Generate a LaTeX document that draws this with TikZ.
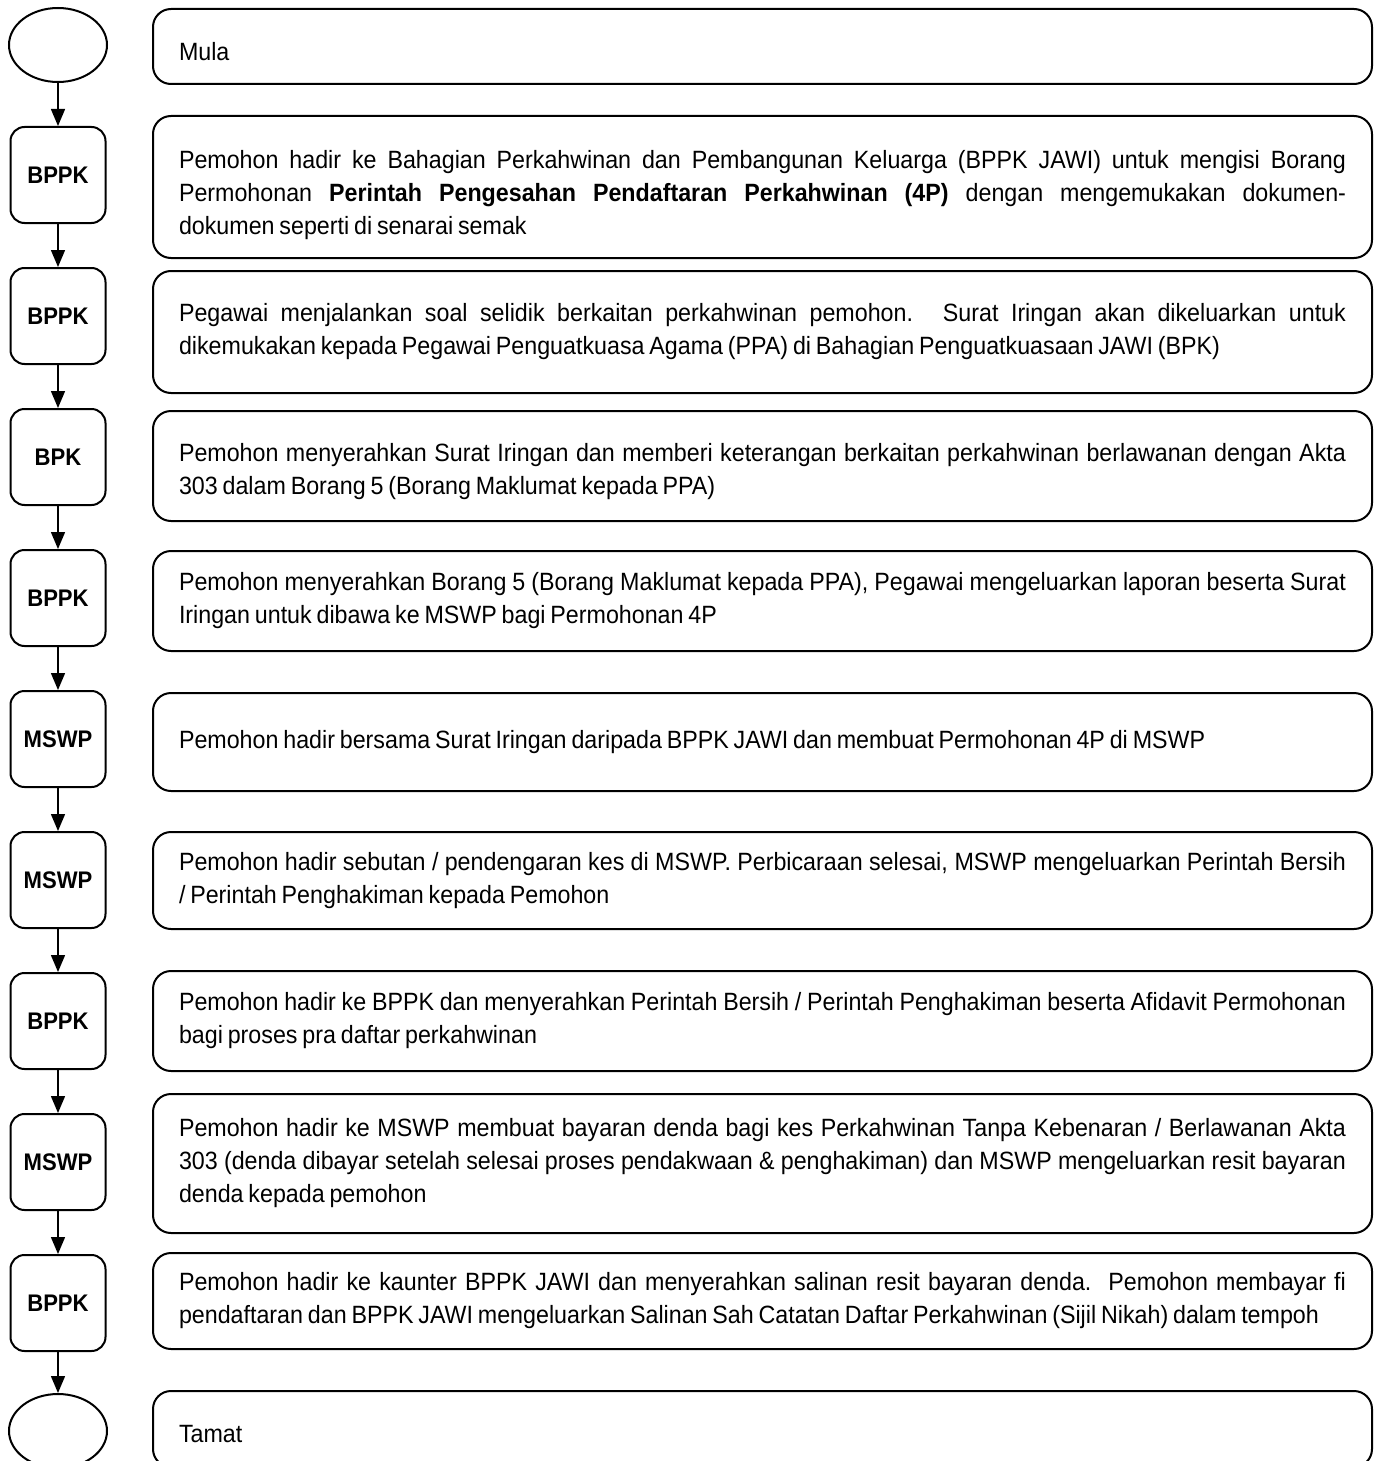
\documentclass[tikz,border=0pt]{standalone}
\usepackage{fontspec}
\setmainfont[FakeStretch=0.93, WordSpace=0.75]{Liberation Sans}
\newfontfamily\labelfont[FakeStretch=0.92]{Liberation Sans}
\usetikzlibrary{arrows.meta}
\usetikzlibrary{positioning}
\usetikzlibrary{shapes.geometric}
\hyphenpenalty=10000
\tolerance=9999

\newcommand\lift[1]{\rule{0pt}{#1}}

\tikzset{
  terminal/.style={draw, ellipse, line width=2pt, minimum width=98pt, minimum height=74pt, inner sep=0pt},
  unitbox/.style={draw, line width=2pt, rounded corners=14pt, minimum width=95pt, minimum height=96pt,
    inner sep=0pt, font=\labelfont\fontsize{24}{28}\selectfont\bfseries},
  stepnote/.style={draw, line width=2pt, rounded corners=18pt, anchor=north west, text width=1167pt,
    inner xsep=26pt, inner ysep=0pt, align=justify, font=\fontsize{25}{33}\selectfont},
  flow/.style={-{Triangle[length=17pt,width=14pt]}, line width=1.5pt}
}

\begin{document}
\begin{tikzpicture}[x=1pt, y=-1pt]
  \useasboundingbox (0,0) rectangle (1381,1461);
  \clip (0,0) rectangle (1381,1461);

  \node [terminal] (start) at (58,45) {};
  \node [unitbox, below=43pt of start] (u2) {BPPK};
  \node [unitbox, below=43pt of u2] (u3) {BPPK};
  \node [unitbox, below=43pt of u3] (u4) {BPK};
  \node [unitbox, below=43pt of u4] (u5) {BPPK};
  \node [unitbox, below=43pt of u5] (u6) {MSWP};
  \node [unitbox, below=43pt of u6] (u7) {MSWP};
  \node [unitbox, below=43pt of u7] (u8) {BPPK};
  \node [unitbox, below=43pt of u8] (u9) {MSWP};
  \node [unitbox, below=43pt of u9] (u10) {BPPK};
  \node [terminal, below=41pt of u10] (stop) {};

  \node [stepnote, minimum height=75pt] (s1) at (152,8) {\lift{28pt}Mula};
  \node [stepnote, minimum height=142pt] (s2) at (152,115)
    {\lift{34pt}Pemohon hadir ke Bahagian Perkahwinan dan Pembangunan Keluarga (BPPK JAWI) untuk mengisi Borang\linebreak
     Permohonan \textbf{Perintah Pengesahan Pendaftaran Perkahwinan (4P)} dengan mengemukakan dokumen-\linebreak
     dokumen seperti di senarai semak};
  \node [stepnote, minimum height=122pt] (s3) at (152,270)
    {Pegawai menjalankan soal selidik berkaitan perkahwinan pemohon.  Surat Iringan akan dikeluarkan untuk\linebreak
     dikemukakan kepada Pegawai Penguatkuasa Agama (PPA) di Bahagian Penguatkuasaan JAWI (BPK)};
  \node [stepnote, minimum height=110pt] (s4) at (152,410)
    {\lift{30pt}Pemohon menyerahkan Surat Iringan dan memberi keterangan berkaitan perkahwinan berlawanan dengan Akta\linebreak
     303 dalam Borang 5 (Borang Maklumat kepada PPA)};
  \node [stepnote, minimum height=100pt] (s5) at (152,550)
    {Pemohon menyerahkan Borang 5 (Borang Maklumat kepada PPA), Pegawai mengeluarkan laporan beserta Surat\linebreak
     Iringan untuk dibawa ke MSWP bagi Permohonan 4P};
  \node [stepnote, minimum height=98pt] (s6) at (152,692)
    {Pemohon hadir bersama Surat Iringan daripada BPPK JAWI dan membuat Permohonan 4P di MSWP};
  \node [stepnote, minimum height=97pt] (s7) at (152,831)
    {Pemohon hadir sebutan / pendengaran kes di MSWP. Perbicaraan selesai, MSWP mengeluarkan Perintah Bersih\linebreak
     / Perintah Penghakiman kepada Pemohon};
  \node [stepnote, minimum height=100pt] (s8) at (152,970)
    {Pemohon hadir ke BPPK dan menyerahkan Perintah Bersih / Perintah Penghakiman beserta Afidavit Permohonan\linebreak
     bagi proses pra daftar perkahwinan};
  \node [stepnote, minimum height=139pt] (s9) at (152,1093)
    {Pemohon hadir ke MSWP membuat bayaran denda bagi kes Perkahwinan Tanpa Kebenaran / Berlawanan Akta\linebreak
     303 (denda dibayar setelah selesai proses pendakwaan \& penghakiman) dan MSWP mengeluarkan resit bayaran\linebreak
     denda kepada pemohon};
  \node [stepnote, minimum height=96pt] (s10) at (152,1252)
    {Pemohon hadir ke kaunter BPPK JAWI dan menyerahkan salinan resit bayaran denda.  Pemohon membayar fi\linebreak
     pendaftaran dan BPPK JAWI mengeluarkan Salinan Sah Catatan Daftar Perkahwinan (Sijil Nikah) dalam tempoh};
  \node [stepnote, minimum height=76pt] (s11) at (152,1390) {\lift{28pt}Tamat};

  \draw [flow] (start) -- (u2);
  \draw [flow] (u2) -- (u3);
  \draw [flow] (u3) -- (u4);
  \draw [flow] (u4) -- (u5);
  \draw [flow] (u5) -- (u6);
  \draw [flow] (u6) -- (u7);
  \draw [flow] (u7) -- (u8);
  \draw [flow] (u8) -- (u9);
  \draw [flow] (u9) -- (u10);
  \draw [flow] (u10) -- (stop);
\end{tikzpicture}
\end{document}
